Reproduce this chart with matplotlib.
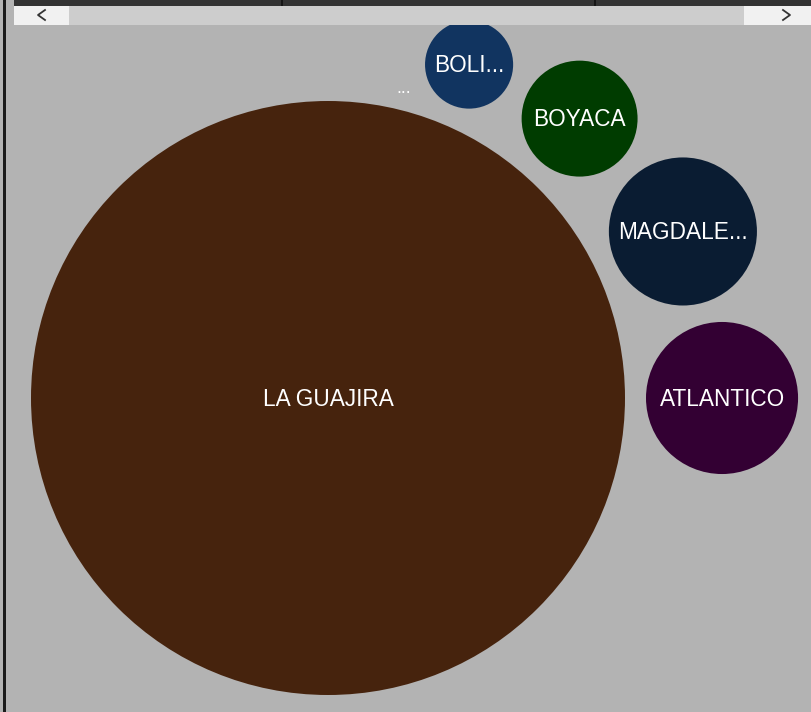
#!/usr/bin/env python3

import matplotlib
matplotlib.use('Agg')
import matplotlib.pyplot as plt
from matplotlib.patches import Circle, Rectangle
import numpy as np

# departments, biggest first, then clockwise-up around it
labels = ['LA GUAJIRA', 'ATLANTICO', 'MAGDALE...', 'BOYACA', 'BOLI...', '...']
values = [8820, 578, 548, 336, 194, 1]
colors = ['#46230d', '#330033', '#0a1c32', '#003c00', '#113460', '#b3b3b3']

W, H = 811, 712
BG = '#b3b3b3'


def radii(vals, max_r=297.0):
    vals = np.asarray(vals, dtype=float)
    return np.sqrt(vals) / np.sqrt(vals.max()) * max_r


def intersect(c0, d0, c1, d1):
    """both intersection points of two circles (centres c0, c1, radii d0, d1)"""
    dx, dy = c1[0] - c0[0], c1[1] - c0[1]
    d = np.hypot(dx, dy)
    a = (d0 ** 2 - d1 ** 2 + d ** 2) / (2 * d)
    h = np.sqrt(max(d0 ** 2 - a ** 2, 0))
    mx, my = c0[0] + a * dx / d, c0[1] + a * dy / d
    return [(mx + h * dy / d, my - h * dx / d), (mx - h * dy / d, my + h * dx / d)]


def pack(rs, centre=(328, 398), pad=21):
    """big one in the middle, the rest tangent to it, going up (screen coords)"""
    cx, cy = centre
    pos = [centre, (cx + rs[0] + pad + rs[1], cy)]
    for i in range(2, len(rs)):
        cands = intersect(centre, rs[0] + pad + rs[i], pos[i - 1], rs[i - 1] + pad + rs[i])
        # take the one that keeps going counter-clockwise on screen
        cands.sort(key=lambda p: np.arctan2(-(p[1] - cy), p[0] - cx))
        pos.append(cands[-1])
    return pos


def plot_bubbles():
    fig = plt.figure(figsize=(W / 100, H / 100), dpi=100)
    fig.patch.set_facecolor(BG)
    ax = fig.add_axes([0, 0, 1, 1])
    ax.set_xlim(0, W)
    ax.set_ylim(H, 0)
    ax.set_aspect('equal')
    ax.axis('off')

    rs = radii(values)
    pos = pack(rs)
    for lab, r, (x, y), c in zip(labels, rs, pos, colors):
        ax.add_patch(Circle((x, y), r, color=c, lw=0, zorder=2))
        if r > 10:
            ax.text(x, y + 1, lab, color='white', ha='center', va='center',
                    fontsize=16.3, family='Liberation Sans', zorder=3)
        else:
            ax.text(x - 1, y + 2, lab, color='white', ha='center', va='center',
                    fontsize=13, family='Liberation Sans', zorder=3)

    # top strip and scroll bar
    ax.add_patch(Rectangle((14, 0), W - 14, 6, color='#333333', lw=0, zorder=5))
    for sx in [282, 595]:
        ax.plot([sx, sx], [0, 5.5], color='#111111', lw=1.2, zorder=6,
                solid_capstyle='butt')
    ax.add_patch(Rectangle((14, 6), W - 14, 19, color='#cdcdcd', lw=0, zorder=5))
    ax.add_patch(Rectangle((14, 6), 55, 19, color='#f1f1f1', lw=0, zorder=6))
    ax.add_patch(Rectangle((744, 6), W - 744, 19, color='#f1f1f1', lw=0, zorder=6))
    ax.plot([45, 38, 45], [10, 15, 20], color='#333333', lw=1.3, zorder=7)
    ax.plot([783, 790, 783], [10, 15, 20], color='#333333', lw=1.3, zorder=7)

    # left frame line
    ax.add_patch(Rectangle((3, 0), 3, H, color='#1a1a1a', lw=0, zorder=5))

    fig.savefig('out.png', dpi=100, facecolor=BG)


if __name__ == '__main__':
    plot_bubbles()
